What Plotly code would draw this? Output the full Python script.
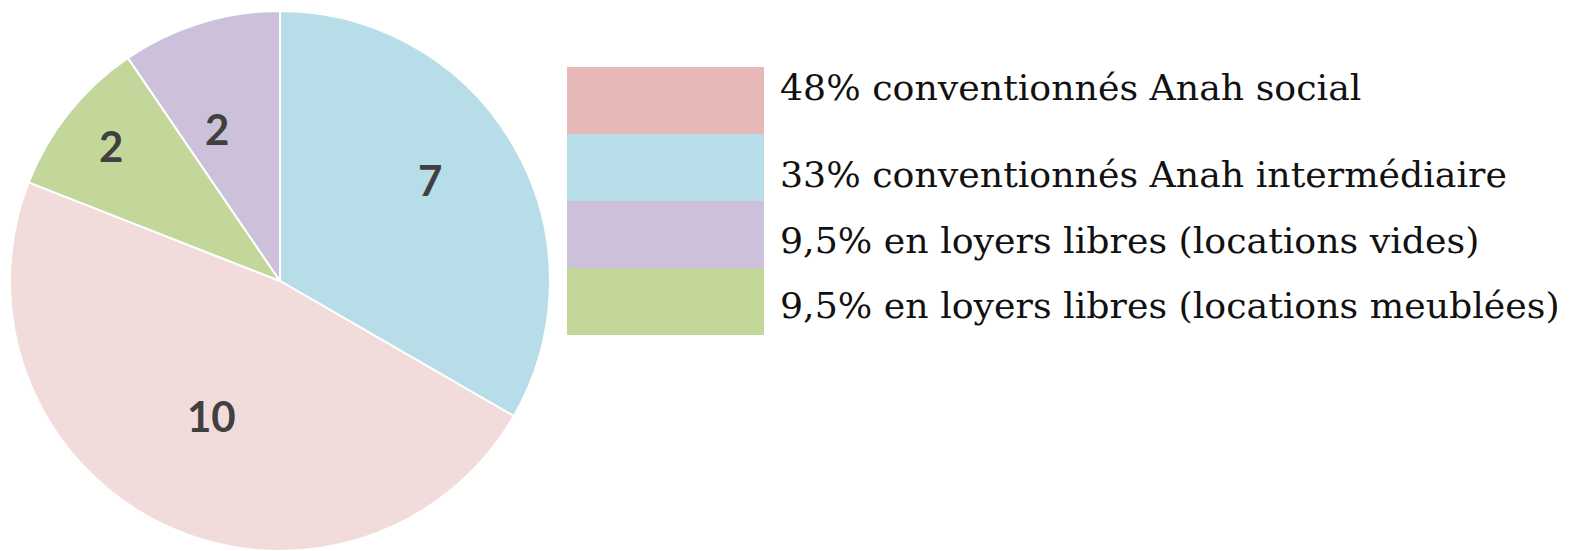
import math
import plotly.graph_objects as go

# Data
slice_labels = ["Anah intermédiaire", "Anah social", "Loyers libres (meublées)", "Loyers libres (vides)"]
slice_values = [7, 10, 2, 2]
slice_colors = ["#b7dee8", "#f2dcdb", "#c4d79b", "#ccc0da"]

legend_texts = [
    "48% conventionnés Anah social",
    "33% conventionnés Anah intermédiaire",
    "9,5% en loyers libres (locations vides)",
    "9,5% en loyers libres (locations meublées)",
]
legend_colors = ["#e6b8b7", "#b7dee8", "#ccc0da", "#c4d79b"]

# Style: label placement (fraction of radius, angle offset in degrees) per slice
label_radius = [0.67, 0.56, 0.80, 0.61]
label_angle_offset = [-4, 1.4, 0, -5.4]

W, H = 1571, 551
cx_px, cy_px, r_px = 280, 281, 270

fig = go.Figure()
fig.add_trace(go.Pie(
    labels=slice_labels,
    values=slice_values,
    sort=False,
    direction="clockwise",
    rotation=0,
    marker=dict(colors=slice_colors, line=dict(color="white", width=2)),
    textinfo="none",
    domain=dict(x=[(cx_px - r_px) / W, (cx_px + r_px) / W], y=[0, 540 / H]),
    showlegend=False,
    hoverinfo="label+value",
))

annotations = []
# value labels placed near the middle angle of each slice
total = sum(slice_values)
cum = 0
for v, rf, da in zip(slice_values, label_radius, label_angle_offset):
    mid = (cum + v / 2) / total * 2 * math.pi + math.radians(da)
    cum += v
    px = cx_px + rf * r_px * math.sin(mid)
    py = cy_px - rf * r_px * math.cos(mid)
    annotations.append(dict(
        text=f"<b>{v}</b>", xref="paper", yref="paper",
        x=px / W, y=1 - py / H, xanchor="center", yanchor="middle",
        showarrow=False,
        font=dict(family="Lato", size=42, color="#404040"),
    ))

# Legend box (custom)
top_px = 67
row_h = 67
x0_px, x1_px = 567, 764
shapes = []
for i, col in enumerate(legend_colors):
    y_top = top_px + i * row_h
    y_bot = y_top + row_h
    shapes.append(dict(
        type="rect", xref="paper", yref="paper",
        x0=x0_px / W, x1=x1_px / W,
        y0=1 - y_bot / H, y1=1 - y_top / H,
        line=dict(width=0), fillcolor=col, layer="below",
    ))
centers = [88, 174, 241, 305]
for txt, cy in zip(legend_texts, centers):
    annotations.append(dict(
        text=txt, xref="paper", yref="paper",
        x=778 / W, y=1 - cy / H, xanchor="left", yanchor="middle",
        showarrow=False,
        font=dict(family="DejaVu Serif", size=36.3, color="#111111"),
    ))

fig.update_layout(
    width=W, height=H,
    margin=dict(l=0, r=0, t=0, b=0),
    paper_bgcolor="white", plot_bgcolor="white",
    shapes=shapes, annotations=annotations,
)

fig.write_html("out.html")
